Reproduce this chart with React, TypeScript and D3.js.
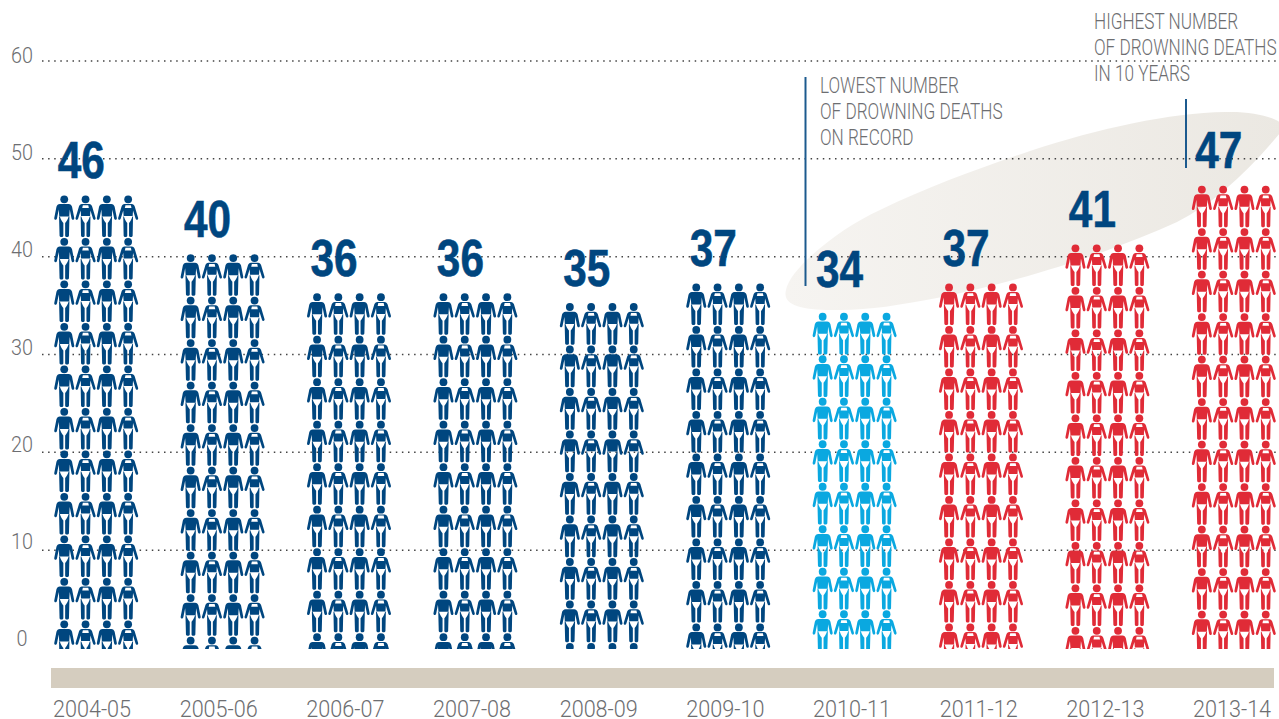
import * as d3 from 'd3'

const seasons = ['2004-05', '2005-06', '2006-07', '2007-08', '2008-09', '2009-10', '2010-11', '2011-12', '2012-13', '2013-14']
const deaths = [46, 40, 36, 36, 35, 37, 34, 37, 41, 47]
const groups = ['before', 'before', 'before', 'before', 'before', 'before', 'lowest', 'after', 'after', 'after']
const yTicks = [0, 10, 20, 30, 40, 50, 60]
const lowestNote = ['LOWEST NUMBER', 'OF DROWNING DEATHS', 'ON RECORD']
const highestNote = ['HIGHEST NUMBER', 'OF DROWNING DEATHS', 'IN 10 YEARS']

const width = 1279
const height = 719
const thinFont = 'Roboto, "Liberation Sans", sans-serif'
const boldFont = '"Liberation Sans", sans-serif'
const grey = '#6d6e71'
const rowStep = 42.5

const x = d3.scaleBand().domain(seasons).range([33, 1297]).padding(0)
const yearX = d3.scaleBand().domain(seasons).range([28.7, 1295.4]).padding(0)
const y = d3.scaleLinear().domain([0, 60]).range([648, 61])
const tickY = d3.scaleLinear().domain([0, 60]).range([646, 63])
const color = d3.scaleOrdinal<string>().domain(['before', 'lowest', 'after']).range(['#00467f', '#0aa8e0', '#e02b37'])
const slot = d3.scaleBand<number>().domain([0, 1, 2, 3]).range([-42.6, 42.6])

// no condensed font is installed, so text gets squeezed sideways
const Squeezed = ({ x, y, k, children, ...rest }: any) => (
  <text transform={`translate(${x},${y}) scale(${k},1)`} {...rest}>
    {children}
  </text>
)

// one person, drawn from the top of the head, 42px tall
const Man = ({ fill }: { fill: string }) => (
  <g fill={fill}>
    <circle cy={3.9} r={3.9} />
    <path d="M-4.4,8.6 L4.4,8.6 C6.2,8.8 7.3,9.8 7.8,11.4 L10,22.5 C10.3,24.6 7.8,24.9 7.3,23 L5.5,14 L5,21 L-5,21 L-5.5,14 L-7.3,23 C-7.8,24.9 -10.3,24.6 -10,22.5 L-7.8,11.4 C-7.3,9.8 -6.2,8.8 -4.4,8.6 Z" />
    <path d="M-5.2,21 L-4.4,21 C-3.6,24 -2.2,26 -0.9,27.5 L-0.9,40.3 C-0.9,42 -4.6,42 -4.7,40.3 Z M5.2,21 L4.4,21 C3.6,24 2.2,26 0.9,27.5 L0.9,40.3 C0.9,42 4.6,42 4.7,40.3 Z" />
  </g>
)

const Woman = ({ fill }: { fill: string }) => (
  <g fill={fill}>
    <circle cy={3.9} r={3.9} />
    <path d="M-3.6,8.6 L3.6,8.6 C5.2,8.8 6,9.6 6.6,11 L10,22.5 C10.4,24.6 7.9,24.9 7.4,23 L4.9,15 L4.5,20.6 L-4.5,20.6 L-4.9,15 L-7.4,23 C-7.9,24.9 -10.4,24.6 -10,22.5 L-6.6,11 C-6,9.6 -5.2,8.8 -3.6,8.6 Z" />
    <path d="M-2.7,9.8 L2.7,9.8 L3.3,12.6 L-3.3,12.6 Z" fill="#fff" />
    <path d="M-4.9,21 L-4.2,21 C-3.4,24 -2.2,26 -0.9,27.5 L-0.9,40.3 C-0.9,42 -4.4,42 -4.5,40.3 Z M4.9,21 L4.2,21 C3.4,24 2.2,26 0.9,27.5 L0.9,40.3 C0.9,42 4.4,42 4.5,40.3 Z" />
  </g>
)

const App = () => {
  const bottom = y(0) + 1
  const lowest = d3.min(deaths)

  return (
    <svg width={width} height={height} style={{ position: 'absolute', left: 0, top: 0 }}>
      <defs>
        <clipPath id="plot">
          <rect x={0} y={0} width={width} height={bottom} />
        </clipPath>
        <linearGradient id="swoosh" x1="0" x2="1" y1="0" y2="0">
          <stop offset="0" stopColor="#f6f4f1" />
          <stop offset="1" stopColor="#ebe8e2" />
        </linearGradient>
      </defs>

      <path
        d="M786,290 C790,268 840,228 880,210 C930,186 980,168 1030,151 C1100,128 1170,113 1225,112 C1255,111 1279,118 1285,127 C1250,170 1215,203 1177,222 C1130,243 1050,275 937,298 C900,305 870,310 840,310 C800,311 782,305 786,290 Z"
        fill="url(#swoosh)"
      />

      {/* grid and y labels */}
      {yTicks.map(t => (
        <g key={t}>
          {t > 0 && (
            <line x1={42} x2={width} y1={y(t)} y2={y(t)} stroke="#444" strokeWidth={1.5} strokeDasharray="1.5 4.6" />
          )}
          <Squeezed x={22} y={tickY(t)} k={0.9} textAnchor="middle" fontSize={22} fontFamily={thinFont} fontWeight={300} fill={grey}>
            {t}
          </Squeezed>
        </g>
      ))}

      {/* leader lines */}
      <line x1={805.5} x2={805.5} y1={77} y2={286} stroke="#1c5a8e" strokeWidth={2} />
      <line x1={1186} x2={1186} y1={99} y2={168} stroke="#1c5a8e" strokeWidth={2} />

      {/* people */}
      <g clipPath="url(#plot)">
        {seasons.map((s, i) => {
          const top = y(deaths[i]) - 2.5
          const rows = d3.range(Math.ceil((bottom - top) / rowStep))
          return rows.map(r =>
            slot.domain().map(c => {
              const px = x(s)! + x.bandwidth() / 2 + slot(c)! + slot.bandwidth() / 2
              const Person = c % 2 === 0 ? Man : Woman
              return (
                <g key={`${s}-${r}-${c}`} transform={`translate(${px},${top + r * rowStep})`}>
                  <Person fill={color(groups[i])} />
                </g>
              )
            })
          )
        })}
      </g>

      {/* value labels */}
      {seasons.map((s, i) => (
        <Squeezed
          key={s}
          x={x(s)! + x.bandwidth() / 2 - 15}
          y={y(deaths[i]) - (deaths[i] === lowest ? 28 : 20)}
          k={0.83}
          textAnchor="middle"
          fontSize={51}
          fontFamily={boldFont}
          fontWeight="bold"
          fill="#00467f"
          stroke="#00467f"
          strokeWidth={0.6}
        >
          {deaths[i]}
        </Squeezed>
      ))}

      {/* base strip */}
      <rect x={51} y={668} width={1223} height={20} fill="#d5cdbf" />
      {seasons.map(s => (
        <Squeezed key={s} x={yearX(s)! + yearX.bandwidth() / 2} y={717} k={0.9} textAnchor="middle" fontSize={24} fontFamily={thinFont} fontWeight={300} fill={grey}>
          {s}
        </Squeezed>
      ))}

      {/* notes */}
      {lowestNote.map((t, i) => (
        <Squeezed key={t} x={820} y={93 + i * 26} k={0.78} fontSize={22} fontFamily={thinFont} fontWeight={300} fill={grey}>
          {t}
        </Squeezed>
      ))}
      {highestNote.map((t, i) => (
        <Squeezed key={t} x={1094} y={29 + i * 26} k={0.78} fontSize={22} fontFamily={thinFont} fontWeight={300} fill={grey}>
          {t}
        </Squeezed>
      ))}
    </svg>
  )
}

export default App
